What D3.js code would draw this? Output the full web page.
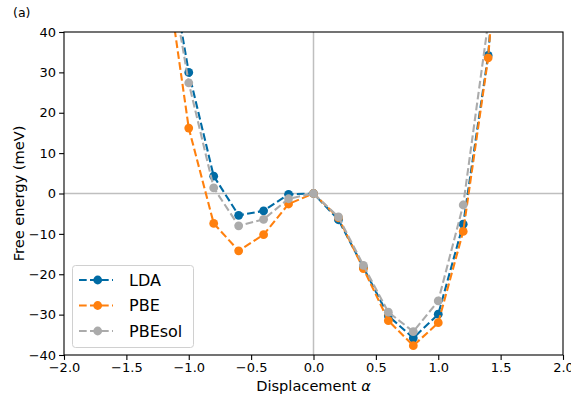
<!DOCTYPE html>
<html><head><meta charset="utf-8">
<script src="https://cdn.jsdelivr.net/npm/d3@7"></script>
<style>body{margin:0;background:#fff}svg{display:block;font-family:"DejaVu Sans",sans-serif}</style>
</head><body><svg id="c" width="571" height="398"></svg>
<script>
const alpha = [-1.2, -1.0, -0.8, -0.6, -0.4, -0.2, 0.0, 0.2, 0.4, 0.6, 0.8, 1.0, 1.2, 1.4, 1.6];
const lda    = [65.7, 30.0, 4.3, -5.4, -4.3, -0.2, 0.0, -6.5, -18.3, -30.3, -35.8, -29.9, -7.6, 34.2, 110];
const pbe    = [59.5, 16.2, -7.4, -14.2, -10.2, -2.6, 0.0, -6.0, -18.6, -31.5, -37.7, -32.0, -9.4, 33.6, 110];
const pbesol = [63.4, 27.4, 1.4, -8.0, -6.4, -1.3, 0.0, -5.8, -17.8, -29.4, -34.2, -26.6, -2.85, 42.3, 120];
const seriesNames = ["LDA", "PBE", "PBEsol"];
const seriesColors = ["#006BA4", "#FF800E", "#ABABAB"];
const xTicks = [-2.0, -1.5, -1.0, -0.5, 0.0, 0.5, 1.0, 1.5, 2.0];
const yTicks = [-40, -30, -20, -10, 0, 10, 20, 30, 40];

const series = [lda, pbe, pbesol];
const svg = d3.select("#c");
const L = 64, R = 563, T = 32, B = 355;
const x = d3.scaleLinear().domain([-2, 2]).range([L, R]);
const y = d3.scaleLinear().domain([-40, 40]).range([B, T]);

svg.append("defs").append("clipPath").attr("id", "clip")
  .append("rect").attr("x", L).attr("y", T).attr("width", R - L).attr("height", B - T);

const g = svg.append("g").attr("clip-path", "url(#clip)");
g.append("line").attr("x1", L).attr("x2", R).attr("y1", y(0)).attr("y2", y(0))
  .attr("stroke", "#bfbfbf").attr("stroke-width", 1.5);
g.append("line").attr("x1", x(0)).attr("x2", x(0)).attr("y1", T).attr("y2", B)
  .attr("stroke", "#bfbfbf").attr("stroke-width", 1.5);

const line = d3.line().x((d, i) => x(alpha[i])).y(d => y(d));
series.forEach((s, k) => {
  g.append("path").attr("d", line(s)).attr("fill", "none")
    .attr("stroke", seriesColors[k]).attr("stroke-width", 2.1)
    .attr("stroke-dasharray", "7.7,3.3");
  g.selectAll(null).data(s).enter().append("circle")
    .attr("cx", (d, i) => x(alpha[i])).attr("cy", d => y(d)).attr("r", 4.4)
    .attr("fill", seriesColors[k]);
});

// axes
const xa = svg.append("g").attr("transform", `translate(0,${B})`)
  .call(d3.axisBottom(x).tickValues(xTicks).tickFormat(d3.format(".1f")).tickSizeOuter(0).tickSize(4.9).tickPadding(3));
const ya = svg.append("g").attr("transform", `translate(${L},0)`)
  .call(d3.axisLeft(y).tickValues(yTicks).tickFormat(d3.format("d")).tickSizeOuter(0).tickSize(4.9).tickPadding(3));
[xa, ya].forEach(a => {
  a.select(".domain").remove();
  a.selectAll("line").attr("stroke", "#000").attr("stroke-width", 1.1);
  a.selectAll("text").attr("font-size", 13).attr("fill", "#000").attr("font-family", "DejaVu Sans");
});
// spines
svg.append("rect").attr("x", L).attr("y", T).attr("width", R - L).attr("height", B - T)
  .attr("fill", "none").attr("stroke", "#000").attr("stroke-width", 1.1);

svg.append("text").attr("x", (L + R) / 2).attr("y", 391).attr("text-anchor", "middle")
  .attr("font-size", 14.6).text("Displacement ").append("tspan").attr("font-style", "italic").text("α");
svg.append("text").attr("transform", `translate(24,${(T + B) / 2}) rotate(-90)`)
  .attr("text-anchor", "middle").attr("font-size", 14.6).text("Free energy (meV)");
svg.append("text").attr("x", 13).attr("y", 17).attr("font-size", 12.5).text("(a)");

// legend
const lg = svg.append("g");
lg.append("rect").attr("x", 72.5).attr("y", 265.5).attr("width", 121).attr("height", 82)
  .attr("rx", 3).attr("fill", "#fff").attr("fill-opacity", 0.8).attr("stroke", "#d0d0d0").attr("stroke-width", 1);
seriesNames.forEach((n, k) => {
  const yy = 280 + k * 25.5;
  lg.append("line").attr("x1", 79).attr("x2", 113).attr("y1", yy).attr("y2", yy)
    .attr("stroke", seriesColors[k]).attr("stroke-width", 2.1).attr("stroke-dasharray", "7.7,3.3");
  lg.append("circle").attr("cx", 97.7).attr("cy", yy).attr("r", 4.4).attr("fill", seriesColors[k]);
  lg.append("text").attr("x", 129).attr("y", yy).attr("dy", "0.36em").attr("font-size", 16).text(n);
});
</script></body></html>
